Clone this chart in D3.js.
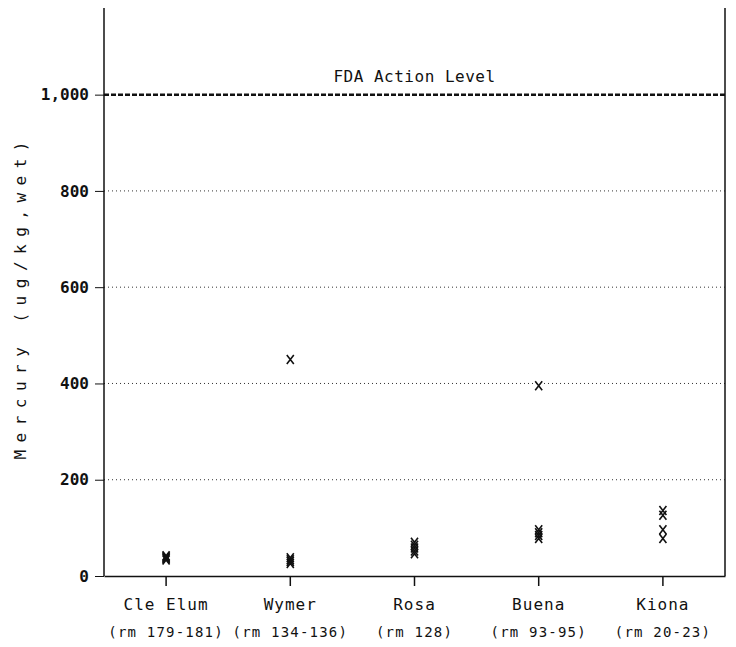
<!DOCTYPE html>
<html>
<head>
<meta charset="utf-8">
<script src="https://cdn.jsdelivr.net/npm/d3@7"></script>
<style>
  body { margin: 0; background: #fff; }
  text { font-family: "DejaVu Sans Mono", monospace; fill: #111; }
</style>
</head>
<body>
<div id="chart"></div>
<script>
const sites = ["Cle Elum", "Wymer", "Rosa", "Buena", "Kiona"];
const riverMiles = ["(rm 179-181)", "(rm 134-136)", "(rm 128)", "(rm 93-95)", "(rm 20-23)"];
const cleElum = [33, 36, 38, 40, 42];
const wymer = [26, 30, 34, 38, 450];
const rosa = [46, 52, 58, 64, 70];
const buena = [78, 84, 90, 96, 395];
const kiona = [78, 96, 126, 136];
const yTicks = [0, 200, 400, 600, 800, 1000];
const fdaLevel = 1000;

const width = 736;
const height = 647;
const margin = { left: 104, right: 11, top: 8, bottom: 71 };

const svg = d3.select("#chart")
    .append("svg")
    .attr("width", width)
    .attr("height", height);

const x = d3.scaleBand()
    .domain(sites)
    .range([margin.left, width - margin.right]);

const y = d3.scaleLinear()
    .domain([0, 1180])
    .range([height - margin.bottom, margin.top]);

const points = [cleElum, wymer, rosa, buena, kiona]
    .flatMap((vals, i) => vals.map(v => ({ site: sites[i], v })));

// grid lines
svg.append("g")
    .selectAll("line")
    .data(yTicks.filter(t => t > 0 && t < fdaLevel))
    .enter()
    .append("line")
    .attr("x1", margin.left)
    .attr("x2", width - margin.right)
    .attr("y1", d => y(d))
    .attr("y2", d => y(d))
    .attr("stroke", "#333")
    .attr("stroke-width", 1)
    .attr("stroke-dasharray", "1,3");

// FDA line
svg.append("line")
    .attr("x1", margin.left)
    .attr("x2", width - margin.right)
    .attr("y1", y(fdaLevel))
    .attr("y2", y(fdaLevel))
    .attr("stroke", "#111")
    .attr("stroke-width", 2.5)
    .attr("stroke-dasharray", "5,2");

svg.append("text")
    .attr("x", x("Rosa") + x.bandwidth() / 2)
    .attr("y", y(fdaLevel) - 13)
    .attr("text-anchor", "middle")
    .style("font-size", "16px")
    .style("letter-spacing", "0.5px")
    .text("FDA Action Level");

// y axis
const yAxis = svg.append("g")
    .attr("transform", `translate(${margin.left},0)`)
    .call(d3.axisLeft(y).tickValues(yTicks).tickSize(9).tickPadding(6)
        .tickFormat(d3.format(",")));
yAxis.select(".domain").remove();
yAxis.selectAll("text").style("font-size", "16px").style("font-weight", "bold");
yAxis.selectAll("line").attr("stroke", "#111");

svg.append("line")
    .attr("x1", margin.left).attr("x2", margin.left)
    .attr("y1", margin.top).attr("y2", y(0))
    .attr("stroke", "#111").attr("stroke-width", 1.5);

svg.append("line")
    .attr("x1", width - margin.right).attr("x2", width - margin.right)
    .attr("y1", margin.top).attr("y2", y(0))
    .attr("stroke", "#111").attr("stroke-width", 1.5);

// x axis
const xAxis = svg.append("g")
    .attr("transform", `translate(0,${y(0)})`)
    .call(d3.axisBottom(x).tickSize(10).tickSizeOuter(0).tickFormat(""));
xAxis.select(".domain").attr("stroke", "#111").attr("stroke-width", 1.5);
xAxis.selectAll("line").attr("stroke", "#111").attr("stroke-width", 1.5);

svg.append("g")
    .selectAll("text")
    .data(sites)
    .enter()
    .append("text")
    .attr("x", d => x(d) + x.bandwidth() / 2)
    .attr("y", y(0) + 34)
    .attr("text-anchor", "middle")
    .style("font-size", "16px")
    .style("letter-spacing", "1px")
    .text(d => d);

svg.append("g")
    .selectAll("text")
    .data(riverMiles)
    .enter()
    .append("text")
    .attr("x", (d, i) => x(sites[i]) + x.bandwidth() / 2)
    .attr("y", y(0) + 61)
    .attr("text-anchor", "middle")
    .style("font-size", "14px")
    .style("letter-spacing", "1.2px")
    .text(d => d);

// y label
svg.append("text")
    .attr("transform", `translate(26,${y(580)}) rotate(-90)`)
    .attr("text-anchor", "middle")
    .style("font-size", "16px")
    .style("letter-spacing", "7.5px")
    .text("Mercury (ug/kg,wet)");

// markers
const s = 3.5;
svg.append("g")
    .selectAll("path")
    .data(points)
    .enter()
    .append("path")
    .attr("d", d => {
        const cx = x(d.site) + x.bandwidth() / 2, cy = y(d.v);
        return `M${cx - s},${cy - s - 1}L${cx + s},${cy + s + 1}M${cx + s},${cy - s - 1}L${cx - s},${cy + s + 1}`;
    })
    .attr("stroke", "#111")
    .attr("stroke-width", 1.6)
    .attr("fill", "none");
</script>
</body>
</html>
